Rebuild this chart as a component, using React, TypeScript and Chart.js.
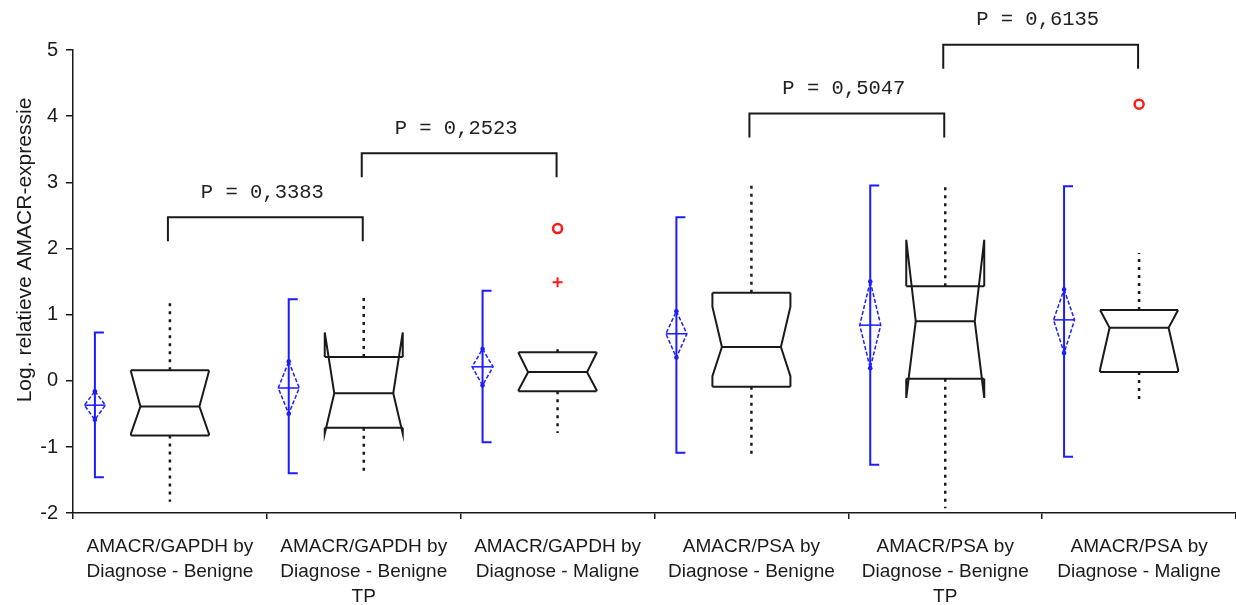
import React, { useEffect, useRef } from 'react';
import { Chart, registerables } from 'chart.js';

Chart.register(...registerables);

// Category labels (one entry per line)
const categoryLines: string[][] = [
  ['AMACR/GAPDH by', 'Diagnose - Benigne'],
  ['AMACR/GAPDH by', 'Diagnose - Benigne', 'TP'],
  ['AMACR/GAPDH by', 'Diagnose - Maligne'],
  ['AMACR/PSA by', 'Diagnose - Benigne'],
  ['AMACR/PSA by', 'Diagnose - Benigne', 'TP'],
  ['AMACR/PSA by', 'Diagnose - Maligne'],
];

const yTickValues = [-2, -1, 0, 1, 2, 3, 4, 5];
const yTitle = 'Log. relatieve AMACR-expressie';

// Mean diamonds (mean with confidence interval) and standard deviation bars
const meanValues = [-0.37, -0.11, 0.21, 0.71, 0.84, 0.92];
const meanCiLow = [-0.59, -0.5, -0.07, 0.35, 0.19, 0.42];
const meanCiHigh = [-0.16, 0.29, 0.48, 1.05, 1.5, 1.38];
const sdLow = [-1.46, -1.4, -0.93, -1.09, -1.27, -1.15];
const sdHigh = [0.73, 1.23, 1.36, 2.47, 2.95, 2.94];

// Notched box plots
const q1Values = [-0.83, -0.71, -0.16, -0.09, 0.03, 0.13];
const medianValues = [-0.39, -0.19, 0.13, 0.51, 0.9, 0.8];
const q3Values = [0.16, 0.36, 0.43, 1.33, 1.43, 1.07];
const notchLow = [-0.8, -0.8, -0.14, 0.07, -0.26, 0.17];
const notchHigh = [0.14, 0.73, 0.42, 1.12, 2.13, 1.07];
const whiskerLow = [-1.83, -1.4, -0.79, -1.12, -1.93, -0.34];
const whiskerHigh = [1.2, 1.26, 0.5, 3.02, 2.97, 1.93];

// Outliers
const circleOutlierCategory = [2, 5];
const circleOutlierValues = [2.3, 4.18];
const crossOutlierCategory = [2];
const crossOutlierValues = [1.49];

// Pairwise comparisons
const pairLeft = [0, 1, 3, 4];
const pairRight = [1, 2, 4, 5];
const pairLevel = [2.47, 3.44, 4.04, 5.08];
const pairLabels = ['P = 0,3383', 'P = 0,2523', 'P = 0,5047', 'P = 0,6135'];

const BLUE = '#1c1cff';
const RED = '#ff1a1a';
const INK = '#1a1a1a';
const SANS = '"Liberation Sans", Arial, sans-serif';
const MONO = '"Liberation Mono", "DejaVu Sans Mono", monospace';

const DIAMOND_OFFSET = -0.387; // diamond sits left of the box, in category units
const DIAMOND_HALF = 10.5;
const CAP_LEN = 9;
const BOX_HALF = 39;
const NOTCH_INSET = 9.5;
const BRACKET_DROP = 24;

const boxPlugin = {
  id: 'boxDiamond',
  afterDatasetsDraw(chart: any) {
    const ctx: CanvasRenderingContext2D = chart.ctx;
    const xs = chart.scales.x;
    const ys = chart.scales.y;
    ctx.save();

    for (let i = 0; i < categoryLines.length; i++) {
      // ---- mean diamond + SD bar ----
      const bx = xs.getPixelForValue(i + DIAMOND_OFFSET);
      const yTop = ys.getPixelForValue(sdHigh[i]);
      const yBot = ys.getPixelForValue(sdLow[i]);
      ctx.strokeStyle = BLUE;
      ctx.fillStyle = BLUE;
      ctx.lineWidth = 2;
      ctx.setLineDash([]);
      ctx.beginPath();
      ctx.moveTo(bx + CAP_LEN, yTop);
      ctx.lineTo(bx, yTop);
      ctx.lineTo(bx, yBot);
      ctx.lineTo(bx + CAP_LEN, yBot);
      ctx.stroke();

      const dTop = ys.getPixelForValue(meanCiHigh[i]);
      const dBot = ys.getPixelForValue(meanCiLow[i]);
      const dMid = ys.getPixelForValue(meanValues[i]);
      ctx.lineWidth = 1.5;
      ctx.setLineDash([4, 2]);
      ctx.beginPath();
      ctx.moveTo(bx, dTop);
      ctx.lineTo(bx + DIAMOND_HALF, dMid);
      ctx.lineTo(bx, dBot);
      ctx.lineTo(bx - DIAMOND_HALF, dMid);
      ctx.closePath();
      ctx.stroke();
      ctx.setLineDash([]);
      ctx.beginPath();
      ctx.moveTo(bx - DIAMOND_HALF, dMid);
      ctx.lineTo(bx + DIAMOND_HALF, dMid);
      ctx.stroke();
      for (const yy of [dTop, dBot]) {
        ctx.beginPath();
        ctx.arc(bx, yy, 2.3, 0, Math.PI * 2);
        ctx.fill();
      }

      // ---- notched box ----
      const cx = xs.getPixelForValue(i);
      const left = cx - BOX_HALF;
      const right = cx + BOX_HALF;
      const q1 = ys.getPixelForValue(q1Values[i]);
      const q3 = ys.getPixelForValue(q3Values[i]);
      const med = ys.getPixelForValue(medianValues[i]);
      const nL = ys.getPixelForValue(notchLow[i]);
      const nH = ys.getPixelForValue(notchHigh[i]);
      const wL = ys.getPixelForValue(whiskerLow[i]);
      const wH = ys.getPixelForValue(whiskerHigh[i]);

      ctx.strokeStyle = INK;
      ctx.lineWidth = 2;
      ctx.beginPath();
      ctx.moveTo(left, q3);
      ctx.lineTo(right, q3);
      ctx.moveTo(left, q1);
      ctx.lineTo(right, q1);
      ctx.moveTo(left + NOTCH_INSET, med);
      ctx.lineTo(right - NOTCH_INSET, med);
      ctx.stroke();

      ctx.beginPath();
      ctx.moveTo(left, q3);
      ctx.lineTo(left, nH);
      ctx.lineTo(left + NOTCH_INSET, med);
      ctx.lineTo(left, nL);
      ctx.lineTo(left, q1);
      ctx.moveTo(right, q3);
      ctx.lineTo(right, nH);
      ctx.lineTo(right - NOTCH_INSET, med);
      ctx.lineTo(right, nL);
      ctx.lineTo(right, q1);
      ctx.stroke();

      // dotted whiskers
      ctx.lineWidth = 2.5;
      ctx.setLineDash([3, 5]);
      ctx.beginPath();
      ctx.moveTo(cx, q3);
      ctx.lineTo(cx, wH);
      ctx.moveTo(cx, q1);
      ctx.lineTo(cx, wL);
      ctx.stroke();
      ctx.setLineDash([]);
    }

    // ---- comparison brackets ----
    ctx.strokeStyle = INK;
    ctx.fillStyle = '#222';
    ctx.lineWidth = 2;
    ctx.font = `20.5px ${MONO}`;
    ctx.textAlign = 'center';
    ctx.textBaseline = 'middle';
    for (let k = 0; k < pairLabels.length; k++) {
      const x1 = xs.getPixelForValue(pairLeft[k]) - 2;
      const x2 = xs.getPixelForValue(pairRight[k]) - 1;
      const y = ys.getPixelForValue(pairLevel[k]);
      ctx.beginPath();
      ctx.moveTo(x1, y + BRACKET_DROP);
      ctx.lineTo(x1, y);
      ctx.lineTo(x2, y);
      ctx.lineTo(x2, y + BRACKET_DROP);
      ctx.stroke();
      ctx.fillText(pairLabels[k], (x1 + x2) / 2 - 3, y - 25);
    }
    ctx.restore();
  },
  afterDraw(chart: any) {
    const ctx: CanvasRenderingContext2D = chart.ctx;
    const xs = chart.scales.x;
    const ys = chart.scales.y;
    const area = chart.chartArea;
    ctx.save();
    ctx.fillStyle = INK;

    // y tick labels
    ctx.font = `20px ${SANS}`;
    ctx.textAlign = 'right';
    ctx.textBaseline = 'alphabetic';
    for (const v of yTickValues) {
      const y = ys.getPixelForValue(v);
      ctx.fillText(String(v), area.left - 15, y + 5.7);
    }

    // category labels
    ctx.font = `19px ${SANS}`;
    ctx.textAlign = 'center';
    for (let i = 0; i < categoryLines.length; i++) {
      const cx = xs.getPixelForValue(i);
      categoryLines[i].forEach((line, j) => {
        ctx.fillText(line, cx, area.bottom + 39 + j * 25);
      });
    }

    // y axis title
    ctx.font = `21px ${SANS}`;
    ctx.translate(25, 250);
    ctx.rotate(-Math.PI / 2);
    ctx.textAlign = 'center';
    ctx.textBaseline = 'middle';
    ctx.fillText(yTitle, 0, 0);
    ctx.restore();
  },
};

export default function App() {
  const canvasRef = useRef<HTMLCanvasElement>(null);

  useEffect(() => {
    const canvas = canvasRef.current;
    if (!canvas) return;
    const boundaries = [-0.5, 0.5, 1.5, 2.5, 3.5, 4.5, 5.5];
    const chart = new Chart(canvas, {
      type: 'scatter',
      data: {
        datasets: [
          {
            data: circleOutlierCategory.map((c, i) => ({ x: c, y: circleOutlierValues[i] })),
            pointStyle: 'circle',
            pointRadius: 4.5,
            borderColor: RED,
            backgroundColor: '#ffffff',
            borderWidth: 2.5,
            clip: false,
          } as any,
          {
            data: crossOutlierCategory.map((c, i) => ({ x: c, y: crossOutlierValues[i] })),
            pointStyle: 'cross',
            pointRadius: 5,
            borderColor: RED,
            backgroundColor: RED,
            borderWidth: 2,
            clip: false,
          } as any,
        ],
      },
      options: {
        animation: false,
        responsive: false,
        devicePixelRatio: 1,
        layout: { autoPadding: false, padding: { top: 50, left: 0, right: 0, bottom: 0 } },
        plugins: { legend: { display: false }, tooltip: { enabled: false } },
        scales: {
          x: {
            type: 'linear',
            min: -0.5,
            max: 5.5,
            afterBuildTicks: (scale: any) => {
              scale.ticks = boundaries.map((v) => ({ value: v }));
            },
            afterFit: (scale: any) => {
              scale.height = 92;
            },
            ticks: { display: false },
            grid: { drawOnChartArea: false, drawTicks: true, tickLength: 6, color: INK, lineWidth: 1.5 },
            border: { display: true, color: INK, width: 1.5 },
          },
          y: {
            type: 'linear',
            min: -2,
            max: 5,
            afterBuildTicks: (scale: any) => {
              scale.ticks = yTickValues.map((v) => ({ value: v }));
            },
            afterFit: (scale: any) => {
              scale.width = 73;
            },
            ticks: { display: false },
            grid: { drawOnChartArea: false, drawTicks: true, tickLength: 7, color: INK, lineWidth: 1.5 },
            border: { display: true, color: INK, width: 1.5 },
          },
        },
      } as any,
      plugins: [boxPlugin],
    });
    return () => chart.destroy();
  }, []);

  return (
    <div style={{ position: 'fixed', left: 0, top: 0, width: 1236, height: 605, background: '#ffffff' }}>
      <canvas ref={canvasRef} width={1236} height={605} style={{ display: 'block', width: 1236, height: 605 }} />
    </div>
  );
}
